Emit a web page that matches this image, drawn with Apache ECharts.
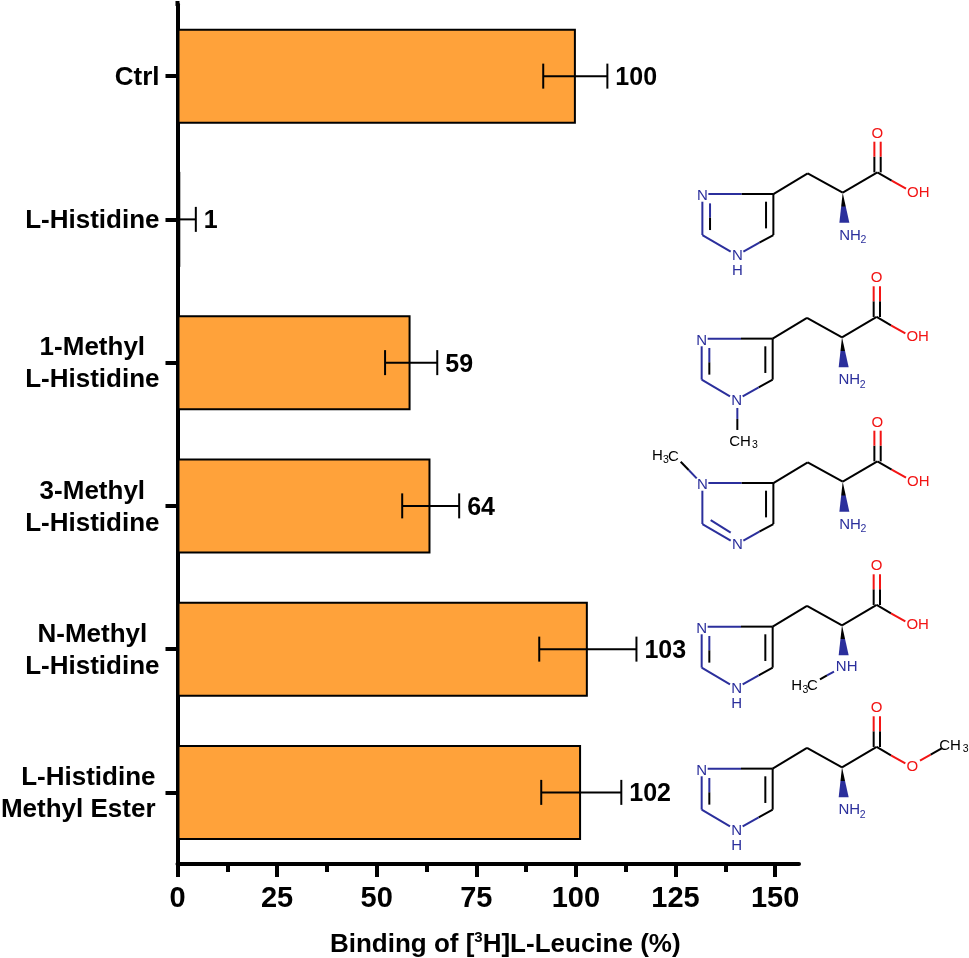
<!DOCTYPE html>
<html><head><meta charset="utf-8">
<style>html,body{margin:0;padding:0;background:#fff}#c{width:969px;height:958px}</style>
<script src="https://cdn.jsdelivr.net/npm/echarts@6/dist/echarts.min.js"></script>
</head><body><div id="c"></div>
<script>
const categories = ['Ctrl','L-Histidine','1-Methyl\nL-Histidine','3-Methyl\nL-Histidine','N-Methyl\nL-Histidine','L-Histidine\nMethyl Ester'];
const barValues = [100,0.7,58.5,63.5,103,101.3];
const errLow = [91.8,0,52.1,56.4,90.8,91.3];
const errHigh = [107.9,4.6,65.2,70.7,115.2,111.4];
const valueLabels = ['100','1','59','64','103','102'];
const xTicks = [0,25,50,75,100,125,150];
const xMinorTicks = [12.5,37.5,62.5,87.5,112.5,137.5];
const xTitle = '{n|Binding of [}{s|3}{n|H]L-Leucine (%)}';

const FONT = '"Liberation Sans",Arial,sans-serif';
const BLK='#000', BLU='#2b2f9c', RED='#f21414';

function molecule(ax, ay, kind){
  const out=[];
  const line=(a,b,c,d,col)=>out.push({type:'line',silent:true,z:5,shape:{x1:ax+a/3,y1:ay+b/3,x2:ax+c/3,y2:ay+d/3},style:{stroke:col,lineWidth:2}});
  const txt=(t,a,b,col,size)=>out.push({type:'text',silent:true,z:6,style:{text:t,x:ax+a/3,y:ay+b/3,fill:col,font:(size||15)+'px '+FONT,align:'center',verticalAlign:'middle'}});
  // backbone
  line(-403,4,-303,4,BLU); line(-303,4,-208,4,BLK);
  line(-208,4,-105,-58,BLK); line(-105,-58,0,0,BLK); line(0,0,104,-61,BLK);
  line(95,-61,95,-108,BLK); line(95,-108,95,-153,RED);
  line(114,-61,114,-108,BLK); line(114,-108,114,-153,RED);
  line(104,-61,147,-36,BLK); line(147,-36,190,-12,RED);
  txt('O',104,-178,RED);
  // imidazole ring
  line(-208,4,-208,127,BLK); line(-230,27,-230,107,BLK);
  line(-208,127,-250,150,BLK); line(-250,150,-298,177,BLU);
  line(-421,127,-336,177,BLU); line(-421,27,-421,127,BLU);
  txt('N',-421,10,BLU); txt('N',-316,190,BLU);
  if(kind==='m3'){ line(-396,115,-336,153,BLU); }
  else { line(-398,32,-398,75,BLU); line(-398,75,-398,112,BLK); }
  if(kind!=='m2'&&kind!=='m3') txt('H',-316,235,BLU);
  // wedge
  out.push({type:'polygon',silent:true,z:5,shape:{points:[[ax,ay],[ax-10/3,ay+30],[ax+20/3,ay+30]]},
    style:{fill:{type:'linear',x:0,y:0,x2:0,y2:1,colorStops:[{offset:0,color:BLK},{offset:.45,color:BLK},{offset:.47,color:BLU},{offset:1,color:BLU}]}}});
  // amine
  if(kind==='m4'){
    txt('NH',14,124,BLU);
    line(-66,162,-45,150,BLK); line(-45,150,-24,139,BLU);
    txt('H',-136,182,BLK); txt('3',-110,194,BLK,10.5); txt('C',-89,182,BLK);
  } else {
    txt('NH',22,129,BLU); txt('2',62,142,BLU,10.5);
  }
  // acid or ester
  if(kind==='m5'){
    txt('O',211,0,RED);
    line(234,-20,266,-38,RED); line(266,-38,299,-57,BLK);
    txt('CH',324,-64,BLK); txt('3',371,-54,BLK,10.5);
  } else txt('OH',227,0,RED);
  if(kind==='m2'){
    line(-314,212,-314,245,BLU); line(-314,245,-314,278,BLK);
    txt('CH',-306,313,BLK); txt('3',-261,323,BLK,10.5);
  }
  if(kind==='m3'){
    line(-438,-10,-462,-35,BLU); line(-462,-35,-486,-60,BLK);
    txt('H',-556,-77,BLK); txt('3',-530,-65,BLK,10.5); txt('C',-508,-75,BLK);
  }
  return out;
}
const molecules=[...molecule(842.7,192.7,'m1'),...molecule(842,337.3,'m2'),...molecule(842.7,481.7,'m3'),...molecule(842,625.3,'m4'),...molecule(842,767.3,'m5')];

const chart=echarts.init(document.getElementById('c'),null,{renderer:'canvas'});
const centered=v=>{
  const isEster=v.indexOf('Ester')>=0;
  const s=isEster?'r':'c';
  return v.split('\n').map(l=>'{'+s+'|'+l+'}').join('\n');
};
const labelBase={fontFamily:FONT,fontWeight:'bold',fontSize:26,color:'#000',lineHeight:32};
const titleBase={fontFamily:FONT,fontWeight:'bold',color:'#000'};
chart.setOption({
  animation:false,
  backgroundColor:'#fff',
  grid:{left:177.5,top:4.5,width:621.5,height:859.5,containLabel:false,outerBoundsMode:'none'},
  xAxis:[{
    type:'value',min:0,max:156,position:'bottom',
    splitLine:{show:false},
    axisLine:{show:true,lineStyle:{color:'#000',width:4}},
    axisTick:{show:true,length:13,lineStyle:{color:'#000',width:4},customValues:xTicks},
    axisLabel:{show:true,color:'#000',fontFamily:FONT,fontWeight:'bold',fontSize:29,margin:20,customValues:xTicks,formatter:v=>String(v)},
    name:xTitle,nameLocation:'middle',nameGap:66,
    nameTextStyle:{...titleBase,fontSize:26,lineHeight:30,padding:[0,0,0,34],
      rich:{n:{...titleBase,fontSize:26,lineHeight:30},s:{...titleBase,fontSize:15,lineHeight:15,verticalAlign:'top'}}}
  },{
    type:'value',min:0,max:156,position:'bottom',
    splitLine:{show:false},axisLine:{show:false},axisLabel:{show:false},
    axisTick:{show:true,length:8,lineStyle:{color:'#000',width:4},customValues:xMinorTicks}
  }],
  yAxis:{
    type:'category',data:categories,inverse:true,
    axisLine:{show:true,lineStyle:{color:'#000',width:4}},
    axisTick:{show:true,alignWithLabel:true,length:12,lineStyle:{color:'#000',width:4}},
    axisLabel:{show:true,interval:0,margin:18,align:'right',padding:[3,0,0,0],formatter:centered,...labelBase,
      rich:{c:{...labelBase,align:'center'},r:{...labelBase,align:'right',padding:[0,4,0,0]}}}
  },
  series:[{
    type:'bar',data:barValues,barWidth:95,z:2,
    itemStyle:{color:'#FFA23A',borderColor:'#000',borderWidth:2}
  },{
    type:'custom',z:4,clip:false,
    data:categories.map((c,i)=>[i,errLow[i],errHigh[i],valueLabels[i]]),
    encode:{x:[1,2],y:0},
    renderItem:(params,api)=>{
      const y=api.coord([0,api.value(0)])[1];
      const x1=api.coord([api.value(1),0])[0], x2=api.coord([api.value(2),0])[0];
      const cap=12.5, st={stroke:'#000',lineWidth:2};
      return {type:'group',children:[
        {type:'line',shape:{x1,y1:y,x2,y2:y},style:st},
        {type:'line',shape:{x1,y1:y-cap,x2:x1,y2:y+cap},style:st},
        {type:'line',shape:{x1:x2,y1:y-cap,x2,y2:y+cap},style:st},
        {type:'text',style:{text:String(api.value(3)),x:x2+8,y:y+2,fill:'#000',align:'left',verticalAlign:'middle',font:'bold 25px '+FONT}}
      ]};
    }
  }],
  graphic:[{type:'line',silent:true,z:3,shape:{x1:177.5,y1:1,x2:177.5,y2:6},style:{stroke:'#000',lineWidth:4}},...molecules]
});
</script></body></html>
